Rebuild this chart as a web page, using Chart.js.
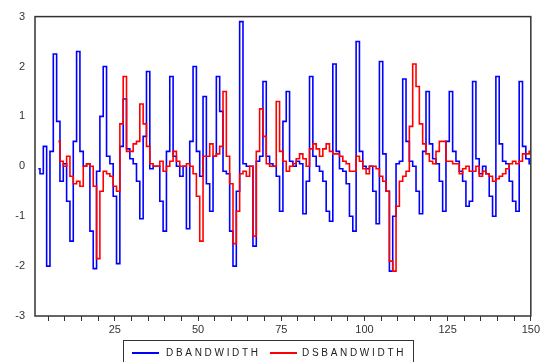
<html lang="en">
<head>
<meta charset="UTF-8">
<script src="https://cdn.jsdelivr.net/npm/chart.js"></script>
<title>DBANDWIDTH / DSBANDWIDTH</title>
<style>
  body { margin: 0; background: #fff; }
  #wrap { position: relative; width: 542px; height: 362px; overflow: hidden; }
  #legend {
    position: absolute; left: 123px; top: 340px; width: 291px; height: 26px;
    border: 1.5px solid #333; box-sizing: border-box;
    font: 10px "Liberation Sans", Arial, sans-serif; color: #222; letter-spacing: 2.7px;
  }
  #legend span { position: absolute; top: 6px; }
  #legend i { position: absolute; top: 11px; height: 2px; width: 27px; }
</style>
</head>
<body>
<div id="wrap">
  <canvas id="myChart" width="542" height="362"></canvas>
  <div id="legend">
    <i style="left:8px;background:#0000ff"></i><span style="left:42px">DBANDWIDTH</span>
    <i style="left:146px;background:#ff0000"></i><span style="left:178px">DSBANDWIDTH</span>
  </div>
</div>
<script>
// observation index 1..150
const obs = [];
for (let i = 1; i <= 150; i++) obs.push(i);

const yTicks = [-3, -2, -1, 0, 1, 2, 3];
const xLabels = [25, 50, 75, 100, 125, 150];

// DBANDWIDTH, obs 1..150 (first obs missing)
const dbandwidth = [
  null, -0.05, -0.15, 0.4, -2.0, 0.3, 2.25, 0.9, -0.3, 0.05,
  -0.7, -1.5, 0.5, 2.3, 0.3, 0.0, 0.05, -1.3, -2.05, -0.1,
  1.0, 2.0, 0.2, 0.05, -0.6, -1.95, 0.4, 1.35, 0.35, 0.15,
  0.05, -0.3, -1.05, 0.6, 1.9, -0.05, 0.0, 0.0, -0.7, -1.3,
  0.3, 1.8, 0.2, 0.0, -0.2, 0.0, -1.25, 0.5, 2.0, 0.3,
  -0.2, 1.4, -0.35, -0.9, 0.2, 1.8, 1.1, -0.1, -0.15, -1.3,
  -2.0, -0.5, 2.9, 0.05, 0.0, 0.0, -1.6, 0.1, 0.2, 1.7,
  0.2, 0.05, 0.0, -0.2, -0.9, 0.9, 1.5, 0.1, 0.0, 0.1,
  0.05, -0.95, -0.3, 1.8, 0.2, 0.0, -0.1, -0.3, -0.9, -1.1,
  2.05, 0.3, -0.05, -0.1, -0.35, -1.0, -1.3, 2.5, 0.3, 0.0,
  -0.05, 0.0, -0.5, -1.15, 2.1, 0.25, -0.5, -2.1, -1.0, 0.05,
  0.1, 1.75, 0.5, 0.1, 0.0, -0.5, -0.95, 0.3, 1.5, 0.45,
  0.15, 0.05, -0.3, -0.9, 0.5, 1.5, 0.3, 0.1, -0.1, -0.3,
  -0.8, -0.7, 1.7, 0.15, -0.15, 0.0, -0.15, -0.6, -1.0, 1.8,
  0.45, 0.1, 0.05, -0.3, -0.7, -0.9, 1.7, 0.4, 0.15, 0.05
];

// DSBANDWIDTH, obs 1..150 (first 7 obs missing)
const dsbandwidth = [
  null, null, null, null, null, null, null, 0.5, 0.1, 0.0,
  0.2, -0.2, -0.35, -0.3, -0.4, 0.0, 0.05, 0.0, -0.4, -1.85,
  -0.5, -0.1, -0.15, -0.2, -0.4, -0.5, 0.85, 1.8, 0.3, 0.3,
  0.45, 0.5, 1.25, 0.85, 0.4, 0.05, 0.0, 0.0, 0.1, -0.1,
  0.0, 0.1, 0.3, 0.1, 0.0, 0.0, 0.05, 0.0, -0.15, -0.6,
  -1.5, 0.2, 0.2, 0.45, 0.2, 0.25, 0.4, 1.5, 0.2, -0.35,
  -1.55, -0.9, -0.15, -0.1, -0.2, 0.0, -1.4, 0.3, 1.15, 0.6,
  0.05, 0.0, 0.0, 1.3, 0.3, 0.1, -0.1, 0.0, 0.05, 0.15,
  0.25, 0.15, 0.0, 0.35, 0.45, 0.35, 0.2, 0.35, 0.45, 0.3,
  0.25, 0.25, 0.2, 0.1, 0.05, -0.1, -0.1, 0.2, 0.1, -0.05,
  -0.15, 0.0, 0.0, -0.05, -0.2, -0.3, -0.5, -1.9, -2.1, -0.8,
  -0.3, -0.2, -0.1, 0.8, 2.05, 1.6, 0.85, 0.45, 0.25, 0.1,
  0.05, 0.3, 0.5, 0.5, 0.1, 0.1, 0.05, 0.05, -0.15, -0.05,
  0.0, -0.1, -0.1, 0.0, -0.2, -0.1, -0.15, -0.2, -0.3, -0.25,
  -0.2, -0.15, -0.05, 0.05, 0.1, 0.05, 0.1, 0.25, 0.25, 0.3
];

const frameBox = {
  id: 'frameBox',
  afterDraw(chart) {
    const a = chart.chartArea, c = chart.ctx;
    c.save();
    c.strokeStyle = '#333';
    c.lineWidth = 1.5;
    c.strokeRect(a.left, a.top, a.right - a.left, a.bottom - a.top);
    c.restore();
  }
};

const toPts = arr => arr.map((v, i) => ({ x: obs[i], y: v }));
const font = { family: '"Liberation Sans", Arial, sans-serif', size: 11 };

new Chart(document.getElementById('myChart'), {
  type: 'line',
  data: {
    datasets: [
      { label: 'DBANDWIDTH', data: toPts(dbandwidth), borderColor: '#0000ff', borderWidth: 1.6, pointRadius: 0, stepped: 'middle', order: 2 },
      { label: 'DSBANDWIDTH', data: toPts(dsbandwidth), borderColor: '#ff0000', borderWidth: 1.6, pointRadius: 0, stepped: 'middle', order: 1 }
    ]
  },
  options: {
    responsive: false,
    animation: false,
    layout: { padding: { left: 0, right: 9, top: 16, bottom: 0 } },
    plugins: { legend: { display: false }, tooltip: { enabled: false } },
    scales: {
      x: {
        type: 'linear', min: 1, max: 150,
        afterBuildTicks: s => { const t = []; for (let v = 5; v <= 150; v += 5) t.push({ value: v }); s.ticks = t; },
        afterFit: s => { s.height = 46; },
        ticks: { autoSkip: false, maxRotation: 0, padding: 2, color: '#333', font,
                 callback: v => xLabels.includes(v) ? String(v) : '' },
        grid: { drawOnChartArea: false, tickLength: 5, color: '#333', lineWidth: 1 },
        border: { display: false }
      },
      y: {
        min: -3, max: 3,
        afterBuildTicks: s => { s.ticks = yTicks.map(v => ({ value: v })); },
        afterFit: s => { s.width = 35; },
        ticks: { padding: 10, color: '#333', font },
        grid: { display: false, drawTicks: false },
        border: { display: false }
      }
    }
  },
  plugins: [frameBox]
});
</script>
</body>
</html>
